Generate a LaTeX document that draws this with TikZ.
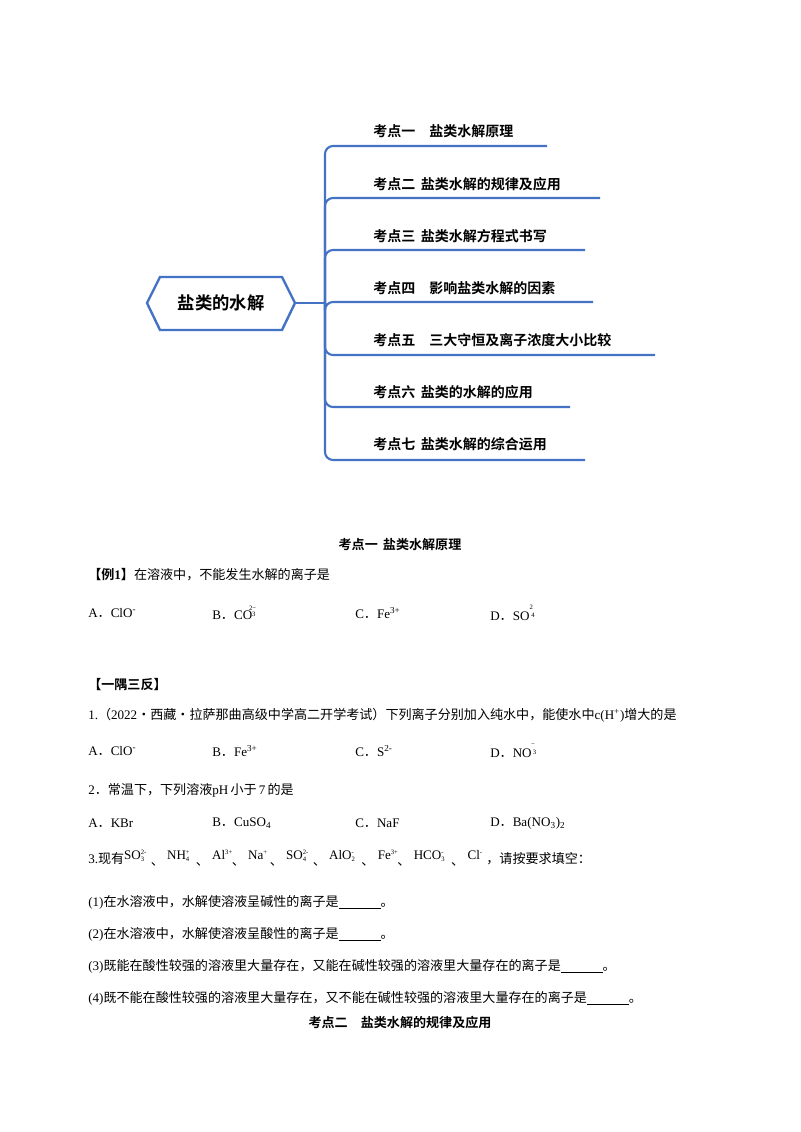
\documentclass[tikz,border=0pt]{standalone}
\usepackage{fontspec}
\setmainfont{Liberation Serif}
\newfontfamily\cjk{Noto Sans CJK SC}
\newfontfamily\cjkb{Noto Sans CJK SC Bold}
\newcommand{\zh}[1]{{\cjk #1}}
\newcommand{\ion}[3]{\raisebox{0.7ex}{#1\makebox[0pt][l]{\raisebox{0.7ex}{\tiny #3}}\raisebox{-0.4ex}{\tiny #2}}\kern0.5em}
\newcommand{\dun}{\raisebox{-0.3ex}{\zh{、}}\kern0.25em}
\definecolor{mblue}{HTML}{4472C4}
\begin{document}
\begin{tikzpicture}[x=0.75pt,y=-0.75pt,
  br/.style={draw=mblue,line width=1.6pt,rounded corners=6pt},
  lab/.style={anchor=west,font=\cjkb\fontsize{10.5}{12}\selectfont,inner sep=0},
  txt/.style={anchor=west,font=\fontsize{9.8}{12}\selectfont,inner sep=0},
  ttl/.style={font=\cjkb\fontsize{9.8}{12}\selectfont,inner sep=0}]
\useasboundingbox[fill=white] (0,0) rectangle (800,1132);
% mind map
\draw[mblue,line width=1.8pt,fill=white] (147,303)--(160,277)--(282,277)--(295,303)--(282,330)--(160,330)--cycle;
\node[font=\cjkb\fontsize{13}{15}\selectfont] (root) at (221,303) {盐类的水解};
\coordinate (hub) at (325,303);
\draw[mblue,line width=1.6pt] (295,303)--(hub);
\foreach \y/\e in {146/547,198/600,250/585,302/593,355/655,407/570,460/585}{
  \draw[br] (325,303)--(325,\y)--(\e,\y);
}
\node[lab] (k1) at (373,131) {考点一\quad 盐类水解原理};
\node[lab] (k2) at (373,184) {考点二\, 盐类水解的规律及应用};
\node[lab] (k3) at (373,236) {考点三\, 盐类水解方程式书写};
\node[lab] (k4) at (373,288) {考点四\quad 影响盐类水解的因素};
\node[lab] (k5) at (373,340) {考点五\quad 三大守恒及离子浓度大小比较};
\node[lab] (k6) at (373,392) {考点六\, 盐类的水解的应用};
\node[lab] (k7) at (373,444) {考点七\, 盐类水解的综合运用};
% text
\node[ttl] (t1) at (400,545) {考点一\, 盐类水解原理};
\node[txt] (e1) at (88,575) {{\cjkb 【例}\textbf{1}{\cjkb 】}\zh{在溶液中，不能发生水解的离子是}};
\node[txt] (a1) at (88,613) {A\zh{．}ClO\textsuperscript{-}};
\node[txt] (b1) at (212,613) {B\zh{．}CO\raisebox{0.5ex}{\tiny 3}\raisebox{1.6ex}{\kern-0.5em\tiny 2−}};
\node[txt] (c1) at (355,613) {C\zh{．}Fe\textsuperscript{3+}};
\node[txt] (d1) at (490,613) {D\zh{．}SO\raisebox{0.5ex}{\kern0.15em\tiny 4}\raisebox{1.8ex}{\kern-0.4em\tiny 2}};
\node[txt] (y) at (88,685) {\cjkb 【一隅三反】};
\node[txt] (q1) at (88,715) {1.\zh{（}2022\zh{·西藏·拉萨那曲高级中学高二开学考试）下列离子分别加入纯水中，能使水中}c(H\textsuperscript{+})\zh{增大的是}};
\node[txt] (a2) at (88,751) {A\zh{．}ClO\textsuperscript{-}};
\node[txt] (b2) at (212,751) {B\zh{．}Fe\textsuperscript{3+}};
\node[txt] (c2) at (355,751) {C\zh{．}S\textsuperscript{2-}};
\node[txt] (d2) at (490,751) {D\zh{．}NO\raisebox{0.5ex}{\kern0.1em\tiny 3}\raisebox{1.8ex}{\kern-0.4em\tiny −}};
\node[txt] (q2) at (88,790) {2\zh{．常温下，下列溶液}pH\,\zh{小于}\,7\,\zh{的是}};
\node[txt] (a3) at (88,823) {A\zh{．}KBr};
\node[txt] (b3) at (212,823) {B\zh{．}CuSO\textsubscript{4}};
\node[txt] (c3) at (355,823) {C\zh{．}NaF};
\node[txt] (d3) at (490,823) {D\zh{．}Ba(NO\textsubscript{3})\textsubscript{2}};
\node[txt] (q3) at (88,858) {3.\zh{现有}\ion{SO}{3}{2-}\dun\ion{NH}{4}{+}\dun\ion{Al}{}{3+}\dun\ion{Na}{}{+}\dun\ion{SO}{4}{2-}\dun\ion{AlO}{2}{-}\dun\ion{Fe}{}{3+}\dun\ion{HCO}{3}{-}\dun\ion{Cl}{}{-}\zh{，请按要求填空：}};
\node[txt] (p1) at (88,902) {(1)\zh{在水溶液中，水解使溶液呈碱性的离子是}\underline{\hspace{3.2em}}\zh{。}};
\node[txt] (p2) at (88,934) {(2)\zh{在水溶液中，水解使溶液呈酸性的离子是}\underline{\hspace{3.2em}}\zh{。}};
\node[txt] (p3) at (88,966) {(3)\zh{既能在酸性较强的溶液里大量存在，又能在碱性较强的溶液里大量存在的离子是}\underline{\hspace{3.2em}}\zh{。}};
\node[txt] (p4) at (88,998) {(4)\zh{既不能在酸性较强的溶液里大量存在，又不能在碱性较强的溶液里大量存在的离子是}\underline{\hspace{3.2em}}\zh{。}};
\node[ttl] (t2) at (400,1023) {考点二\quad 盐类水解的规律及应用};
\end{tikzpicture}
\end{document}
